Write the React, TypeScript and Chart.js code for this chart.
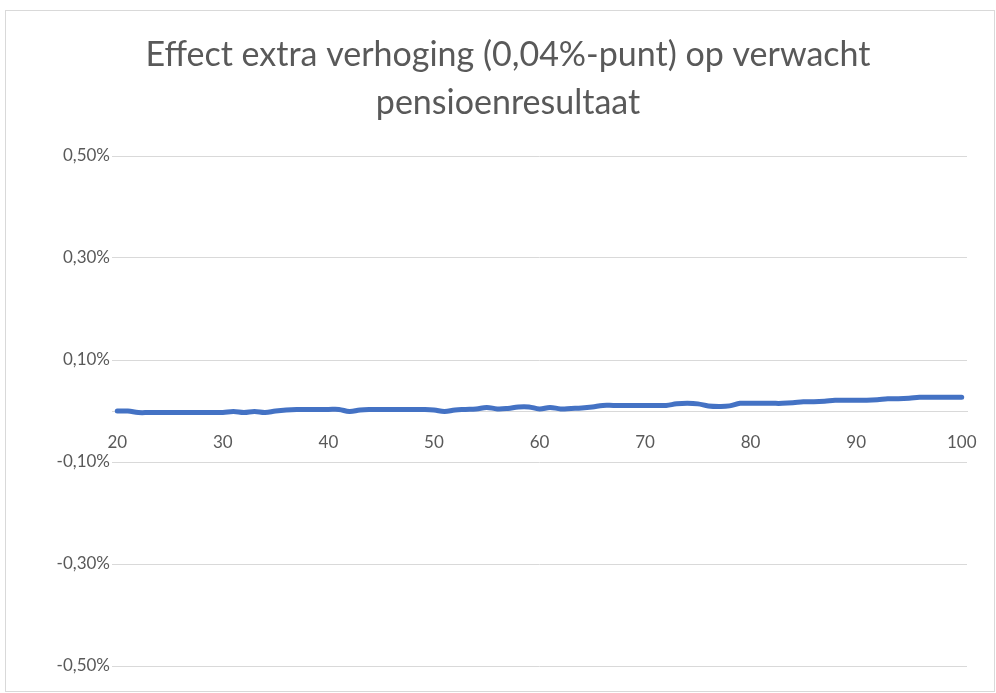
import React, { useEffect, useRef } from "react";
import { Chart, registerables } from "chart.js";

Chart.register(...registerables);

const ages: number[] = [];
for (let a = 20; a <= 100; a++) ages.push(a);

const effect: number[] = [
  0.0, 0.0, -0.003, -0.003, -0.003, -0.003, -0.003, -0.003, -0.003, -0.003,
  -0.003, -0.001, -0.003, -0.001, -0.003, 0.0, 0.002, 0.003, 0.003, 0.003,
  0.003, 0.003, -0.001, 0.002, 0.003, 0.003, 0.003, 0.003, 0.003, 0.003,
  0.002, -0.001, 0.002, 0.003, 0.004, 0.007, 0.004, 0.005, 0.008, 0.008,
  0.004, 0.007, 0.004, 0.005, 0.006, 0.008, 0.011, 0.011, 0.011, 0.011,
  0.011, 0.011, 0.011, 0.014, 0.015, 0.014, 0.010, 0.009, 0.010, 0.015,
  0.015, 0.015, 0.015, 0.015, 0.016, 0.018, 0.018, 0.019, 0.021, 0.021,
  0.021, 0.021, 0.022, 0.024, 0.024, 0.025, 0.027, 0.027, 0.027, 0.027,
  0.027,
];

const titleLines = ["Effect extra verhoging (0,04%-punt) op verwacht", "pensioenresultaat"];
const yMin = -0.5;
const yMax = 0.5;
const yStep = 0.2;

export default function App() {
  const ref = useRef<HTMLCanvasElement>(null);
  useEffect(() => {
    if (!ref.current) return;
    const chart = new Chart(ref.current, {
      type: "line",
      data: {
        labels: ages.map(String),
        datasets: [
          {
            data: effect,
            borderColor: "#4472C4",
            backgroundColor: "#4472C4",
            borderWidth: 5,
            pointRadius: 0,
            tension: 0.4,
            borderCapStyle: "round",
            borderJoinStyle: "round",
          },
        ],
      },
      options: {
        responsive: false,
        animation: false,
        layout: { padding: { left: 43, right: 27, top: 20, bottom: 25 } },
        plugins: {
          legend: { display: false },
          tooltip: { enabled: false },
          title: {
            display: true,
            text: titleLines,
            color: "#595959",
            font: { family: "Lato", size: 34, weight: "normal", lineHeight: 48 / 34 },
            padding: { top: 0, bottom: 29 },
          },
        },
        scales: {
          x: {
            type: "category",
            position: { y: 0 },
            offset: true,
            afterFit: (s: any) => {
              s.paddingLeft = 0;
              s.paddingRight = 0;
            },
            grid: { display: false, drawTicks: false },
            border: { display: true, color: "#d9d9d9", width: 1 },
            ticks: {
              autoSkip: false,
              maxRotation: 0,
              color: "#595959",
              font: { family: "Lato", size: 17 },
              padding: 21,
              callback: (_v: any, i: number) => (ages[i] % 10 === 0 ? String(ages[i]) : ""),
            },
          },
          y: {
            min: yMin,
            max: yMax,
            afterFit: (s: any) => {
              s.width = 63;
            },
            grid: { color: "#d9d9d9", drawTicks: false, lineWidth: 1 },
            border: { display: false },
            ticks: {
              stepSize: yStep,
              padding: 2,
              color: "#595959",
              font: { family: "Lato", size: 17 },
              callback: (v: any) => Number(v).toFixed(2).replace(".", ",") + "%",
            },
          },
        },
      },
    });
    return () => chart.destroy();
  }, []);
  return (
    <div
      style={{
        position: "absolute",
        left: 5,
        top: 10,
        width: 988,
        height: 680,
        border: "1px solid #d9d9d9",
        background: "#fff",
      }}
    >
      <canvas ref={ref} width={988} height={680} style={{ display: "block" }} />
    </div>
  );
}
